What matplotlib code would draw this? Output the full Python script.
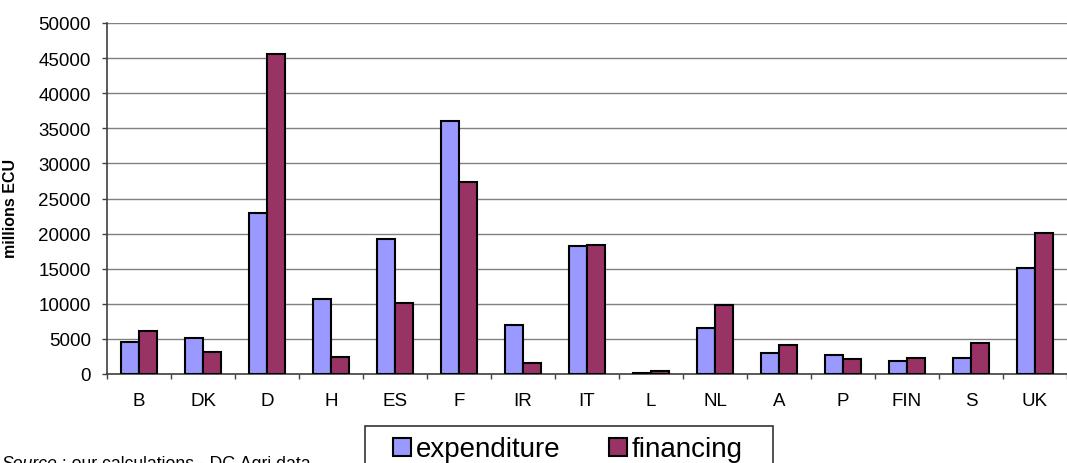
import matplotlib
matplotlib.use("Agg")
import numpy as np
import matplotlib.pyplot as plt
from matplotlib.patches import Patch, Rectangle

plt.rcParams['font.family'] = ['Liberation Sans', 'DejaVu Sans']

# EU member states, millions ECU
countries = ['B', 'DK', 'D', 'H', 'ES', 'F', 'IR', 'IT', 'L', 'NL', 'A', 'P', 'FIN', 'S', 'UK']
expenditure = [4600, 5150, 22900, 10700, 19300, 36100, 6950, 18300, 140, 6600, 3050, 2700, 1850, 2350, 15100]
financing = [6100, 3100, 45600, 2450, 10050, 27350, 1550, 18400, 430, 9850, 4200, 2150, 2250, 4400, 20100]

col_exp = '#9999FF'
col_fin = '#993366'

W, H = 1067, 464
fig = plt.figure(figsize=(W / 100, H / 100), dpi=100)
ax = fig.add_axes([107 / W, 89 / H, 960 / W, 351 / H])

x = np.arange(len(countries))
bw = 0.285
ax.bar(x - bw / 2, expenditure, bw, color=col_exp, edgecolor='black', linewidth=1.5, zorder=3)
ax.bar(x + bw / 2, financing, bw, color=col_fin, edgecolor='black', linewidth=1.5, zorder=3)

ax.set_xlim(-0.5, 14.27)
ax.set_ylim(0, 50000)
ax.set_yticks(np.arange(0, 50001, 5000))
ax.yaxis.grid(True, color='#808080', linewidth=1.0, zorder=0)
ax.set_axisbelow(True)

# country labels centred, tick marks on the category boundaries
ax.set_xticks(x)
ax.set_xticklabels(countries, fontsize=13.5)
ax.tick_params(axis='x', which='major', length=0, pad=13)
ax.set_xticks(np.arange(-0.5, 15, 1), minor=True)
ax.tick_params(axis='x', which='minor', length=3.6, width=1, color='#404040', direction='out')
ax.tick_params(axis='y', length=3.6, width=1, color='#404040', labelsize=13.5, pad=8)

for s in ['top', 'right']:
    ax.spines[s].set_visible(False)
for s in ['left', 'bottom']:
    ax.spines[s].set_color('#404040')
    ax.spines[s].set_linewidth(1.2)

ax.set_ylabel('millions ECU', fontsize=11.5, fontweight='bold')
ax.yaxis.set_label_coords(-0.093, 0.475)

# legend box runs off the bottom edge
fig.patches.append(Rectangle((365 / W, -0.05), (773 - 365) / W, (464 - 427) / H + 0.05,
                             transform=fig.transFigure, facecolor='white',
                             edgecolor='#333333', linewidth=1.2, zorder=1))
handles = [Patch(facecolor=col_exp, edgecolor='black', linewidth=1.5, label='expenditure'),
           Patch(facecolor=col_fin, edgecolor='black', linewidth=1.5, label='financing')]
fig.legend(handles=handles, loc='center left', bbox_to_anchor=(393 / W, 1 - 450.5 / H),
           ncol=2, frameon=False, fontsize=20, borderpad=0, borderaxespad=0,
           handlelength=0.64, handleheight=0.64, handletextpad=0.18, columnspacing=1.75)

# source note at the bottom left
t1 = fig.text(1 / W, (H - 469) / H, 'Source', fontsize=12.7, style='italic',
              va='baseline', ha='left')
fig.text(0, 0, ' : our calculations - DG Agri data', fontsize=12.7, va='baseline', ha='left')
fig.canvas.draw()
bb = t1.get_window_extent()
fig.texts[-1].set_position((bb.x1 / W, (H - 469) / H))

fig.savefig('out.png', dpi=100)
